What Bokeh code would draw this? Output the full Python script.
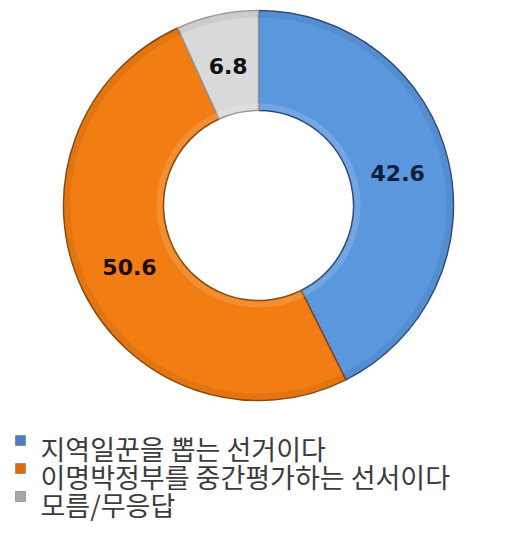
from math import pi, cos, sin
from bokeh.plotting import figure
from bokeh.models import ColumnDataSource, Range1d
from bokeh.core.properties import value
from bokeh.embed import file_html
from bokeh.resources import INLINE

categories = ["지역일꾼을 뽑는 선거이다", "이명박정부를 중간평가하는 선서이다", "모름/무응답"]
values = [42.6, 50.6, 6.8]
labels = ["42.6", "50.6", "6.8"]
colors = ["#5B97DD", "#F27D12", "#D9D9D9"]
edge_colors = ["#2C4E7A", "#8A4A0E", "#9A9A9A"]
label_colors = ["#0F1E3A", "#1A0E04", "#111111"]
legend_colors = ["#4A7FC8", "#E06A0A", "#A8A8A8"]

W, H = 513, 525
p = figure(width=W, height=H, output_backend="svg", toolbar_location=None,
           x_range=Range1d(0, W), y_range=Range1d(0, H), min_border=0)
p.axis.visible = False
p.grid.visible = False
p.outline_line_color = None
p.background_fill_color = "white"
p.border_fill_color = "white"

cx, cy = 258, 320
r_out, r_in = 195, 95

total = sum(values)
starts, ends, mids = [], [], []
cum = 0.0
for v in values:
    s = pi / 2 - 2 * pi * cum / total
    cum += v
    e = pi / 2 - 2 * pi * cum / total
    starts.append(s)
    ends.append(e)
    mids.append((s + e) / 2)

src = ColumnDataSource(dict(start=starts, end=ends, color=colors, edge=edge_colors))
p.annular_wedge(x=cx, y=cy, inner_radius=r_in, outer_radius=r_out,
                start_angle="start", end_angle="end", direction="clock",
                fill_color="color", line_color="edge", line_width=1.5, source=src)
# subtle bevel shading
p.annular_wedge(x=cx, y=cy, inner_radius=r_in + 1, outer_radius=r_in + 7,
                start_angle="start", end_angle="end", direction="clock",
                fill_color="white", fill_alpha=0.14, line_color=None, source=src)
p.annular_wedge(x=cx, y=cy, inner_radius=r_out - 7, outer_radius=r_out - 1,
                start_angle="start", end_angle="end", direction="clock",
                fill_color="black", fill_alpha=0.06, line_color=None, source=src)

lr = 143
lsrc = ColumnDataSource(dict(
    x=[cx + lr * cos(m) for m in mids],
    y=[cy + lr * sin(m) for m in mids],
    t=labels, c=label_colors))
p.text(x="x", y="y", text="t", text_color="c", source=lsrc,
       text_align="center", text_baseline="middle",
       text_font=value("DejaVu Sans"), text_font_style="bold",
       text_font_size="22px")

# legend
leg_y = [77, 49, 21]
sq_y = [85, 57, 29]
p.scatter(x=[20] * 3, y=sq_y, marker="square", size=10,
          fill_color=legend_colors, line_color="#666666", line_width=0.5)
p.text(x=[40] * 3, y=leg_y, text=categories, text_color="#3C3C3C",
       text_align="left", text_baseline="middle",
       text_font=value("Noto Sans CJK KR"), text_font_size="27px")

open("out.html", "w").write(file_html(p, INLINE))
